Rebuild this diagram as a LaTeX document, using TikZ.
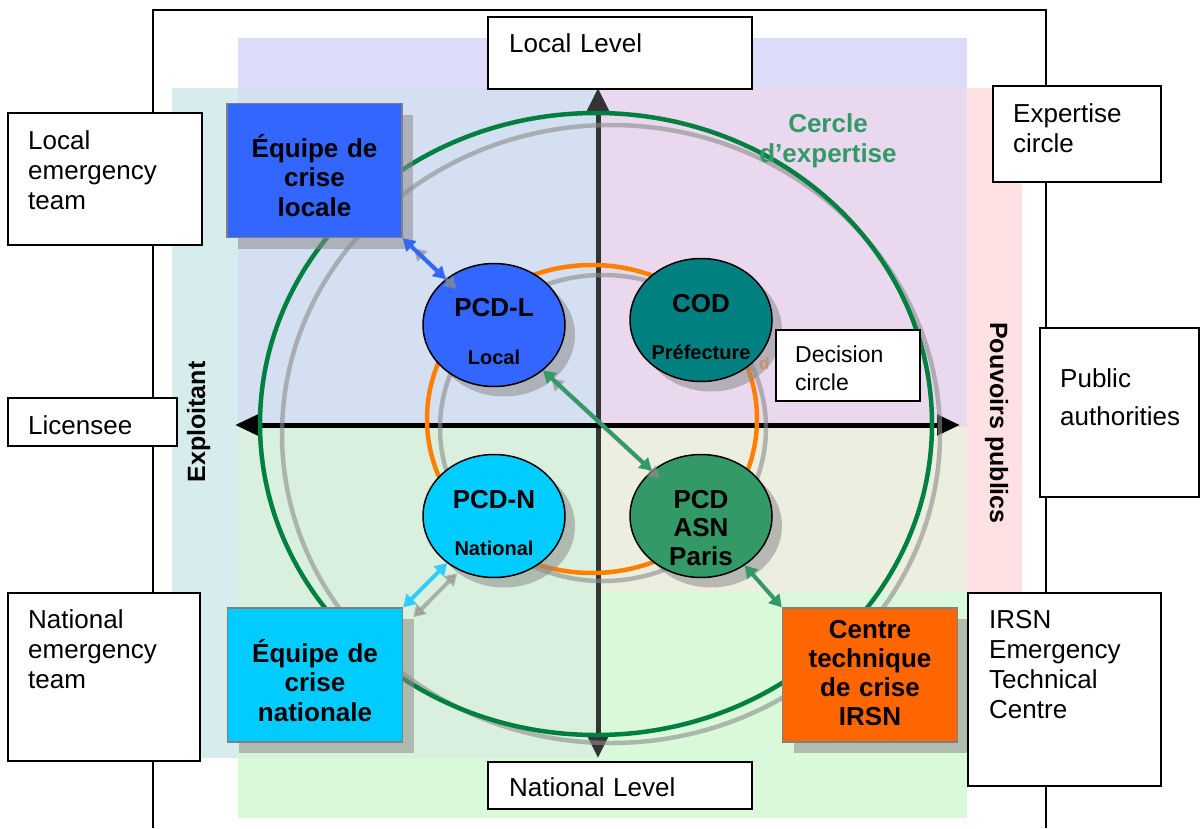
\documentclass[tikz,border=0pt]{standalone}
\usepackage{fontspec}
\setmainfont{Liberation Sans}
\usetikzlibrary{arrows.meta,shapes.geometric,shadows}
\definecolor{cblue}{HTML}{3366FF}
\definecolor{cteal}{HTML}{008080}
\definecolor{ccyan}{HTML}{00CCFF}
\definecolor{carrcyan}{HTML}{33CCFF}
\definecolor{cgreen}{HTML}{339966}
\definecolor{corange}{HTML}{FF6600}
\definecolor{cring}{HTML}{FF8000}
\definecolor{cdkgreen}{HTML}{008040}
\definecolor{caxis}{HTML}{333333}
\definecolor{bgB}{HTML}{DCDCFA}
\definecolor{bgT}{HTML}{D7ECEC}
\definecolor{bgBT}{HTML}{D4DFF2}
\definecolor{bgBP}{HTML}{EAD9EE}
\definecolor{bgP}{HTML}{FFE0E3}
\definecolor{bgGT}{HTML}{D9F0DE}
\definecolor{bgGP}{HTML}{ECEFE0}
\definecolor{bgG}{HTML}{DAF8DA}
\newcommand\myfs[2]{\fontsize{#1}{#2}\selectfont}
\begin{document}
\begin{tikzpicture}[x=1pt,y=-1pt,
  lbox/.style={draw=black,line width=1.5pt,fill=white,inner sep=0pt},
  ltxt/.style={anchor=base west,inner sep=0pt,align=left,text width=200pt,font=\myfs{26}{30}},
  sq/.style={draw=gray,line width=1.5pt,inner sep=0pt,minimum width=175pt,minimum height=134pt,
     drop shadow={shadow xshift=11pt,shadow yshift=-11pt,fill=black!45,opacity=0.55}},
  sqtxt/.style={anchor=base,inner sep=0pt,align=center,text width=170pt,font=\bfseries\myfs{26}{29.5}},
  ell/.style={ellipse,draw=black,line width=1.5pt,inner sep=0pt,minimum width=142pt,minimum height=123pt,
     drop shadow={shadow xshift=10pt,shadow yshift=-10pt,fill=black!45,opacity=0.55}},
  eltxt/.style={anchor=base,inner sep=0pt,font=\bfseries\myfs{26}{28.5}},
  elsub/.style={anchor=base,inner sep=0pt,font=\bfseries\myfs{20}{24}},
  ring/.style={line width=4.5pt},
  ringshd/.style={line width=4.5pt,draw=black!45,draw opacity=0.6},
  axis/.style={line width=5pt},
  conn/.style={line width=4pt,{Triangle[length=12pt,width=14pt]}-{Triangle[length=12pt,width=14pt]}},
  connshd/.style={conn,draw=black!45,fill=black!45,opacity=0.6},
  vert/.style={anchor=base,inner sep=0pt,font=\bfseries\myfs{25}{30}},
]
\useasboundingbox (0,0) rectangle (1200,828);
\fill[white] (0,0) rectangle (1200,828);
% outer frame
\draw[line width=1.5pt] (153,828) -- (153,10) -- (1046,10) -- (1046,828);
% background regions
\fill[bgB] (238,38) rectangle (967,88);
\fill[bgT] (172,88) rectangle (238,758);
\fill[bgBT] (238,88) rectangle (598,427);
\fill[bgBP] (598,88) rectangle (967,427);
\fill[bgP] (967,88) rectangle (1022,592);
\fill[bgGT] (238,427) rectangle (598,758);
\fill[bgGP] (598,427) rectangle (967,592);
\fill[bgG] (598,592) rectangle (967,818);
\fill[bgG] (238,758) rectangle (598,818);
% axes
\coordinate (vt) at (598,88);
\coordinate (vb) at (598,758);
\coordinate (hl) at (235,425);
\coordinate (hr) at (960,425);
\draw[axis,caxis,{Triangle[length=24pt,width=22pt]}-{Triangle[length=24pt,width=22pt]}] (vt) -- (vb);
\draw[axis,black,{Triangle[length=23pt,width=20pt]}-{Triangle[length=23pt,width=20pt]}] (hl) -- (hr);
% rings
\draw[ringshd] (611,434) ellipse [x radius=329, y radius=309];
\draw[ring,cdkgreen] (596,424) ellipse [x radius=336, y radius=311];
\draw[ringshd] (603,428) ellipse [x radius=163, y radius=153];
\draw[ring,cring] (592,419) ellipse [x radius=165, y radius=154];
% ring label
\node[anchor=base,inner sep=0pt,align=center,text width=200pt,text=cgreen,font=\bfseries\myfs{26}{30}] (cexp) at (828,132) {Cercle\\d’expertise};
\node[anchor=base west,inner sep=0pt,text=cring!75,font=\bfseries\myfs{17}{20}] (dd) at (759,369) {d};
% ellipses
\node[ell,fill=cblue] (pcdl) at (494,325) {};
\node[ell,fill=cteal] (cod) at (701,320) {};
\node[ell,fill=ccyan] (pcdn) at (494,516) {};
\node[ell,fill=cgreen] (pcdasn) at (701,516) {};
\node[eltxt] (pcdlt) at (494,316) {PCD-L};
\node[elsub] (pcdls) at (494,364) {Local};
\node[eltxt] (codt) at (701,312) {COD};
\node[elsub] (cods) at (701,359) {Préfecture};
\node[eltxt] (pcdnt) at (494,508) {PCD-N};
\node[elsub] (pcdns) at (494,555) {National};
\node[eltxt,align=center,text width=140pt] (pcdasnt) at (701,508) {PCD\\ASN\\Paris};
% squares
\node[sq,fill=cblue] (eql) at (314.5,170.5) {};
\node[sq,fill=ccyan] (eqn) at (315,675) {};
\node[sq,fill=corange] (ctc) at (870,675) {};
\node[sqtxt] (eqlt) at (314.5,157) {Équipe de\\crise\\locale};
\node[sqtxt] (eqnt) at (315,662) {Équipe de\\crise\\nationale};
\node[sqtxt,font=\bfseries\myfs{26}{29}] (ctct) at (870,638) {Centre\\technique\\de crise\\IRSN};
% connectors
\draw[connshd,transform canvas={shift={(11pt,-10pt)}}] (eql.south east) -- (pcdl);
\draw[conn,cblue] (eql.south east) -- (pcdl);
\draw[connshd,transform canvas={shift={(10pt,-10pt)}}] (eqn.north east) -- (pcdn);
\draw[conn,carrcyan] (eqn.north east) -- (pcdn);
\draw[connshd,transform canvas={shift={(8pt,-8pt)}}] (pcdl) -- (pcdasn);
\draw[conn,cgreen] (pcdl) -- (pcdasn);
\draw[conn,cgreen] (pcdasn) -- (ctc.north west);
% vertical labels
\node[vert,rotate=90] (expl) at (205,422) {Exploitant};
\node[vert,rotate=-90] (pouv) at (990,423) {Pouvoirs publics};
% label boxes
\node[lbox,minimum width=264pt,minimum height=72pt] (blocal) at (620,53) {};
\node[ltxt] (tlocal) at (509,52) {Local Level};
\node[lbox,minimum width=264pt,minimum height=47pt] (bnat) at (620,785.5) {};
\node[ltxt] (tnat) at (509,796) {National Level};
\node[lbox,minimum width=168pt,minimum height=96pt] (bexp) at (1077,134) {};
\node[ltxt] (texp) at (1013,122) {Expertise\\circle};
\node[lbox,minimum width=194pt,minimum height=132pt] (bloc) at (105,179) {};
\node[ltxt] (tloc) at (28,149) {Local\\emergency\\team};
\node[lbox,minimum width=169pt,minimum height=48pt] (blic) at (92.5,422) {};
\node[ltxt] (tlic) at (28,434) {Licensee};
\node[lbox,minimum width=159pt,minimum height=169pt] (bpub) at (1119.5,412.5) {};
\node[ltxt,font=\myfs{26}{38}] (tpub) at (1060,387) {Public\\authorities};
\node[lbox,minimum width=192pt,minimum height=168pt] (bnt) at (104,677) {};
\node[ltxt] (tnt) at (28,628) {National\\emergency\\team};
\node[lbox,minimum width=193pt,minimum height=193pt] (birsn) at (1064.5,689.5) {};
\node[ltxt] (tirsn) at (989,628) {IRSN\\Emergency\\Technical\\Centre};
\node[lbox,minimum width=144pt,minimum height=71pt] (bdec) at (848,365.5) {};
\node[ltxt,font=\myfs{23}{28}] (tdec) at (795,362) {Decision\\circle};
\end{tikzpicture}
\end{document}
